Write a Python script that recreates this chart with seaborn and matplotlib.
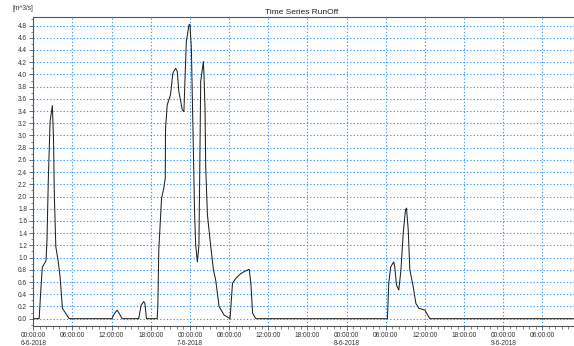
import matplotlib
matplotlib.use("Agg")
import matplotlib.pyplot as plt
import matplotlib.dates as mdates
from matplotlib.ticker import MultipleLocator, FuncFormatter
import numpy as np
import pandas as pd
import seaborn as sns

# ---- data: hours since 2018-06-06 00:00 and runoff [m^3/s] ----
start = "2018-06-06 00:00"
hours = [0, 0.9, 1.14, 1.38, 1.95, 2.1, 2.3, 2.57, 2.92, 2.98, 3.1, 3.23, 3.45, 3.8, 4.1, 4.46, 5.49,
         12.06, 12.4, 12.83, 13.2, 13.6,
         16.15, 16.52, 16.92, 17.1, 17.34,
         18.98, 19.08, 19.23, 19.65, 20.0, 20.22, 20.26, 20.52, 21.03, 21.38, 21.8, 22.06, 22.3,
         22.83, 23.08, 23.23, 23.45, 23.85, 24.0, 24.22, 24.52, 24.72, 24.88, 25.14, 25.38, 25.54,
         25.65, 26.06, 26.15, 26.31, 26.42, 26.68, 27.15, 27.6, 27.95, 28.46, 29.23, 30.15,
         30.52, 31.03, 31.7, 32.3, 33.08, 33.34, 33.6, 34.1,
         54.26, 54.46, 54.77, 55.23, 55.38, 55.65, 56.0, 56.31, 56.68, 57.03, 57.18, 57.45, 57.69,
         58.22, 58.62, 59.08, 60.0, 60.42, 60.77, 83.5]
runoff = [0, 0, 0.45, 0.84, 0.95, 1.3, 2.27, 3.23, 3.49, 3.3, 2.93, 2.0, 1.18, 0.95, 0.69, 0.17, 0,
          0, 0.08, 0.14, 0.08, 0,
          0, 0.22, 0.28, 0.25, 0,
          0, 0.2, 1.13, 1.97, 2.14, 2.3, 3.12, 3.5, 3.67, 4.02, 4.10, 4.05, 3.72,
          3.42, 3.39, 3.89, 4.54, 4.81, 4.82, 4.43, 2.79, 1.7, 1.21, 0.93, 1.21, 2.79,
          3.89, 4.21, 4.0, 3.45, 2.47, 1.70, 1.22, 0.80, 0.63, 0.2, 0.06, 0,
          0.58, 0.66, 0.73, 0.77, 0.81, 0.58, 0.09, 0,
          0, 0.58, 0.85, 0.93, 0.85, 0.55, 0.47, 0.77, 1.40, 1.78, 1.81, 1.45, 0.80,
          0.52, 0.25, 0.17, 0.14, 0.06, 0.0, 0]

title = "Time Series RunOff"
ylabel = "[m^3/s]"

df = pd.DataFrame({
    "time": pd.Timestamp(start) + pd.to_timedelta(hours, unit="h"),
    "runoff": runoff,
})

sns.set_style("white")
plt.rcParams["font.family"] = ["Liberation Sans", "DejaVu Sans"]

fig = plt.figure(figsize=(5.74, 3.46), dpi=100)
ax = fig.add_axes([33.3 / 574, 20 / 346, (574 - 33.3) / 574 + 0.004, (326 - 17) / 346])

sns.lineplot(data=df, x="time", y="runoff", ax=ax, color="#222222", linewidth=0.75)

t0 = pd.Timestamp(start)
ax.set_xlim(t0, t0 + pd.Timedelta(hours=83.2))
ax.set_ylim(-0.12, 4.94)

ax.xaxis.set_major_locator(mdates.HourLocator(byhour=[0, 6, 12, 18]))
ax.xaxis.set_minor_locator(mdates.HourLocator())

def fmt_x(v, pos):
    d = mdates.num2date(v)
    s = d.strftime("%H:%M:%S")
    if d.hour == 0:
        s += "\n" + f"{d.day}-{d.month}-{d.year}"
    return s

ax.xaxis.set_major_formatter(FuncFormatter(fmt_x))
ax.yaxis.set_major_locator(MultipleLocator(0.2))
ax.yaxis.set_minor_locator(MultipleLocator(0.1))
ax.yaxis.set_major_formatter(FuncFormatter(lambda v, p: f"{v:.1f}"))

ax.grid(True, which="major", color="#3b9cff", linestyle=(0, (1.2, 1.8)), linewidth=0.8)
ax.set_axisbelow(True)

for s in ax.spines.values():
    s.set_color("#555555")
    s.set_linewidth(0.8)
    s.set_visible(True)

ax.tick_params(axis="both", which="major", direction="out", length=3, width=0.6,
               color="#555555", labelsize=4.7, pad=1.5, labelcolor="#333333",
               bottom=True, left=True)
ax.tick_params(axis="both", which="minor", direction="out", length=1.8, width=0.5,
               color="#555555", bottom=True, left=True)
for lbl in ax.get_xticklabels():
    lbl.set_linespacing(1.1)

ax.set_xlabel("")
ax.set_ylabel("")
fig.text(302 / 574, 1 - 12 / 346, title, ha="center", va="center", fontsize=6.0, color="#222222")
fig.text(12 / 574, 1 - 9 / 346, ylabel, ha="left", va="center", fontsize=4.7, color="#333333")

fig.savefig("out.png", dpi=100)
